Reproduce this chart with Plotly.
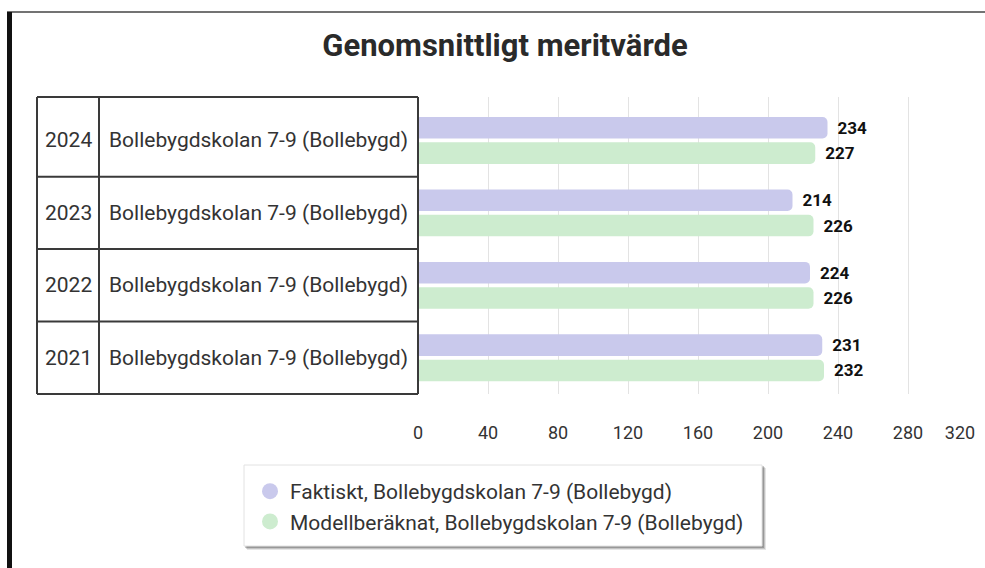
import plotly.graph_objects as go

# ---- data ----
years = ["2024", "2023", "2022", "2021"]
schools = ["Bollebygdskolan 7-9 (Bollebygd)"] * 4
faktiskt = [234, 214, 224, 231]
modell = [227, 226, 226, 232]
series_names = ["Faktiskt, Bollebygdskolan 7-9 (Bollebygd)",
                "Modellberäknat, Bollebygdskolan 7-9 (Bollebygd)"]
x_ticks = [0, 40, 80, 120, 160, 200, 240, 280, 320]
x_tick_labels = ["0", "40", "80", "120", "160", "200", "240", "280", "320"]
title = "Genomsnittligt meritvärde"

# ---- style ----
W, H = 985, 568
PL, PR, PT, PB = 418, 978, 97, 394
purple = "rgb(201,201,236)"
green = "rgb(205,236,207)"
txt = "#333333"
FONT = "Roboto"

def px_to_paper_x(px):
    return (px - PL) / (PR - PL)

def px_to_paper_y(py):
    return (PB - py) / (PB - PT)

fig = go.Figure()
for vals, name, col in [(faktiskt, series_names[0], purple), (modell, series_names[1], green)]:
    fig.add_trace(go.Bar(
        y=years, x=vals, orientation="h", name=name,
        marker=dict(color=col, cornerradius=5, line=dict(width=0)),
        text=vals, texttemplate="\u2009\u2009%{x}", textposition="outside",
        textfont=dict(family=FONT, size=17, color="#111111", weight="bold"),
        cliponaxis=False, showlegend=False,
    ))
# legend entries with circle symbols (no data, on overlay axis)
for k, (name, col) in enumerate(zip(series_names, [purple, green])):
    fig.add_trace(go.Scatter(x=[None], y=[None], mode="markers", name=name,
                             legendgroup=f"g{k}", xaxis="x2",
                             marker=dict(color=col, size=18, symbol="circle")))

shapes = []
# legend box with soft shadow
for off, alpha in [(4, 0.10), (3, 0.15), (2, 0.22)]:
    shapes.append(dict(type="rect", xref="paper", yref="paper",
                       x0=px_to_paper_x(244 + off - 1), x1=px_to_paper_x(762 + off),
                       y0=px_to_paper_y(546 + off), y1=px_to_paper_y(465 + off - 1),
                       fillcolor=f"rgba(0,0,0,{alpha})", line=dict(width=0)))
shapes.append(dict(type="rect", xref="paper", yref="paper",
                   x0=px_to_paper_x(244), x1=px_to_paper_x(762),
                   y0=px_to_paper_y(546), y1=px_to_paper_y(465),
                   fillcolor="white", line=dict(color="#e2e2e2", width=1)))
# table borders
for xp in [37, 99]:
    shapes.append(dict(type="line", xref="paper", yref="paper",
                       x0=px_to_paper_x(xp), x1=px_to_paper_x(xp), y0=0, y1=1,
                       line=dict(color="#3a3a3a", width=2)))
shapes.append(dict(type="line", xref="paper", yref="paper", x0=0, x1=0, y0=0, y1=1,
                   line=dict(color="#3a3a3a", width=2)))
for yp in [0, 1]:
    shapes.append(dict(type="line", xref="paper", yref="paper",
                       x0=px_to_paper_x(37), x1=0, y0=yp, y1=yp,
                       line=dict(color="#3a3a3a", width=2)))
for i in range(len(years) - 1):
    shapes.append(dict(type="line", xref="paper", yref="y",
                       x0=px_to_paper_x(37), x1=0, y0=i + 0.5, y1=i + 0.5,
                       line=dict(color="#3a3a3a", width=2)))
# frame pieces (card border)
shapes.append(dict(type="line", xref="paper", yref="paper",
                   x0=px_to_paper_x(7), x1=px_to_paper_x(985),
                   y0=px_to_paper_y(12), y1=px_to_paper_y(12),
                   line=dict(color="#444444", width=1.5)))
shapes.append(dict(type="rect", xref="paper", yref="paper",
                   x0=px_to_paper_x(7), x1=px_to_paper_x(12),
                   y0=px_to_paper_y(570), y1=px_to_paper_y(12),
                   fillcolor="#111111", line=dict(width=0)))

annotations = []
for i, (yr, sc) in enumerate(zip(years, schools)):
    annotations.append(dict(text=yr, xref="paper", yref="y", x=px_to_paper_x(68), y=i,
                            showarrow=False, xanchor="center", yanchor="middle",
                            font=dict(family=FONT, size=21, color=txt)))
    annotations.append(dict(text=sc, xref="paper", yref="y", x=px_to_paper_x(258), y=i,
                            showarrow=False, xanchor="center", yanchor="middle",
                            font=dict(family=FONT, size=21, color=txt)))

tick_common = dict(ticks="outside", ticklen=22, tickcolor="rgba(0,0,0,0)",
                   tickfont=dict(family=FONT, size=18, color=txt),
                   zeroline=False, showline=False, automargin=False)

fig.update_layout(
    width=W, height=H,
    margin=dict(l=PL, r=W - PR, t=PT, b=H - PB, pad=0, autoexpand=False),
    paper_bgcolor="white", plot_bgcolor="white",
    font=dict(family=FONT, color=txt),
    title=dict(text=title, x=505 / W, xref="container", xanchor="center",
               y=1 - 45 / H, yref="container", yanchor="middle",
               font=dict(family=FONT, size=31, color="#2a2a2a", weight="bold")),
    barmode="group", bargap=0.30, bargroupgap=0.15,
    xaxis=dict(range=[0, 320], tickvals=x_ticks[:-1], ticktext=x_tick_labels[:-1],
               showgrid=True, gridcolor="#e3e3e3", gridwidth=1, **tick_common),
    xaxis2=dict(range=[0, 320], tickvals=x_ticks[-1:], ticktext=x_tick_labels[-1:],
                overlaying="x", anchor="y", side="bottom",
                showgrid=True, gridcolor="#e3e3e3", gridwidth=1,
                ticklabelshift=-18, **tick_common),
    yaxis=dict(categoryorder="array", categoryarray=years, range=[3.5, -0.6],
               showticklabels=False, showgrid=False, zeroline=False, showline=False,
               automargin=False),
    legend=dict(xref="paper", yref="paper", x=px_to_paper_x(250), y=px_to_paper_y(471),
                xanchor="left", yanchor="top", bgcolor="rgba(0,0,0,0)",
                borderwidth=0, tracegroupgap=0,
                font=dict(family=FONT, size=21, color=txt), itemsizing="trace"),
    shapes=shapes, annotations=annotations,
)

fig.write_html("out.html", config={"displayModeBar": False},
               post_script="document.body.style.margin='0';")
